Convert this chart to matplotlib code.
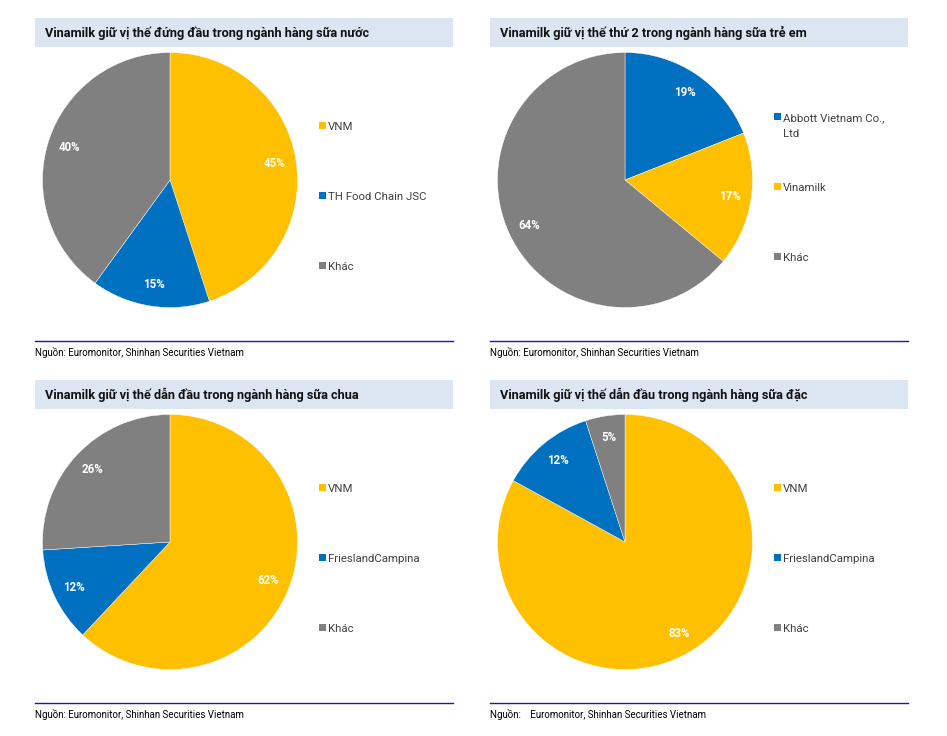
import matplotlib
matplotlib.use("Agg")
import matplotlib.pyplot as plt
from matplotlib import font_manager as fm
from matplotlib.patches import Rectangle
from matplotlib.lines import Line2D
import numpy as np

avail = {f.name for f in fm.fontManager.ttflist}
HAS_NARROW = "Liberation Sans Narrow" in avail
BASE = "Liberation Sans Narrow" if HAS_NARROW else "Roboto"
plt.rcParams['font.family'] = [BASE, 'DejaVu Sans']

# ---- data ----
titles = [
    "Vinamilk giữ vị thế đứng đầu trong ngành hàng sữa nước",
    "Vinamilk giữ vị thế thứ 2 trong ngành hàng sữa trẻ em",
    "Vinamilk giữ vị thế dẫn đầu trong ngành hàng sữa chua",
    "Vinamilk giữ vị thế dẫn đầu trong ngành hàng sữa đặc",
]
labels_1 = ["VNM", "TH Food Chain JSC", "Khác"]
values_1 = [45, 15, 40]
labels_2 = ["Abbott Vietnam Co.,\nLtd", "Vinamilk", "Khác"]
values_2 = [19, 17, 64]
labels_3 = ["VNM", "FrieslandCampina", "Khác"]
values_3 = [62, 12, 26]
labels_4 = ["VNM", "FrieslandCampina", "Khác"]
values_4 = [83, 12, 5]
sources = [
    "Nguồn: Euromonitor, Shinhan Securities Vietnam",
    "Nguồn: Euromonitor, Shinhan Securities Vietnam",
    "Nguồn: Euromonitor, Shinhan Securities Vietnam",
    "Nguồn:    Euromonitor, Shinhan Securities Vietnam",
]

YELLOW = "#FFC000"
BLUE = "#0070C0"
GRAY = "#808080"
colors_1 = [YELLOW, BLUE, GRAY]
colors_2 = [BLUE, YELLOW, GRAY]
colors_3 = [YELLOW, BLUE, GRAY]
colors_4 = [YELLOW, BLUE, GRAY]

if HAS_NARROW:
    TITLE_FS, LEG_FS, SRC_FS, PCT_FS = 10.5, 9, 8.3, 9
else:
    TITLE_FS, LEG_FS, SRC_FS, PCT_FS = 9.2, 8.2, 7.0, 8.3

W, H = 947, 736
fig = plt.figure(figsize=(W / 100, H / 100), dpi=100)

def fx(x):
    return x / W

def fy(y):
    return 1 - y / H

panels = [
    (labels_1, values_1, colors_1, 35, 18),
    (labels_2, values_2, colors_2, 490, 18),
    (labels_3, values_3, colors_3, 35, 380),
    (labels_4, values_4, colors_4, 490, 380),
]

for i, (labs, vals, cols, px, py) in enumerate(panels):
    # title bar
    fig.patches.append(Rectangle((fx(px), fy(py + 29)), fx(418), 29 / H,
                                 transform=fig.transFigure, facecolor="#DCE6F2",
                                 edgecolor="none", zorder=0))
    fig.text(fx(px + 10), fy(py + 15), titles[i], fontsize=TITLE_FS, fontweight="bold",
             color="#111111", va="center", ha="left")
    # source line and text
    ly = py + 323
    fig.add_artist(Line2D([fx(px), fx(px + 418)], [fy(ly), fy(ly)],
                          transform=fig.transFigure, color="#1414D2", lw=1.0))
    fig.text(fx(px), fy(ly + 11), sources[i], fontsize=SRC_FS, color="#000000",
             va="center", ha="left")
    # pie
    cx = px + 135
    cy = py + 162
    r = 127.5
    ax = fig.add_axes([fx(cx - r), fy(cy + r), 2 * r / W, 2 * r / H])
    ax.pie(vals, colors=cols, startangle=90, counterclock=False,
           wedgeprops=dict(linewidth=0.3, edgecolor="white"))
    ax.set_xlim(-1.0, 1.0)
    ax.set_ylim(-1.0, 1.0)
    ax.set_aspect("equal")
    ax.axis("off")
    tot = sum(vals)
    cum = 0
    for v in vals:
        mid = 90 - 360 * (cum + v / 2) / tot
        cum += v
        d = 0.83
        ax.text(d * np.cos(np.radians(mid)), d * np.sin(np.radians(mid)), f"{v}%",
                ha="center", va="center", color="white", fontweight="bold",
                fontsize=PCT_FS)
    # legend
    lx = px + 288
    first_y = py + 108 if i != 1 else py + 99
    for j, (lab, c) in enumerate(zip(labs, cols)):
        yy = first_y + 70 * j
        fig.patches.append(Rectangle((fx(lx - 4), fy(yy + 3)), 7 / W, 7 / H,
                                     transform=fig.transFigure, facecolor=c,
                                     edgecolor="none"))
        lines = lab.split("\n")
        for k, ln in enumerate(lines):
            fig.text(fx(lx + 5 if k == 0 else lx + 5), fy(yy + 16 * k), ln,
                     fontsize=LEG_FS, color="#404040", va="center_baseline", ha="left")

fig.savefig("out.png", dpi=100)
